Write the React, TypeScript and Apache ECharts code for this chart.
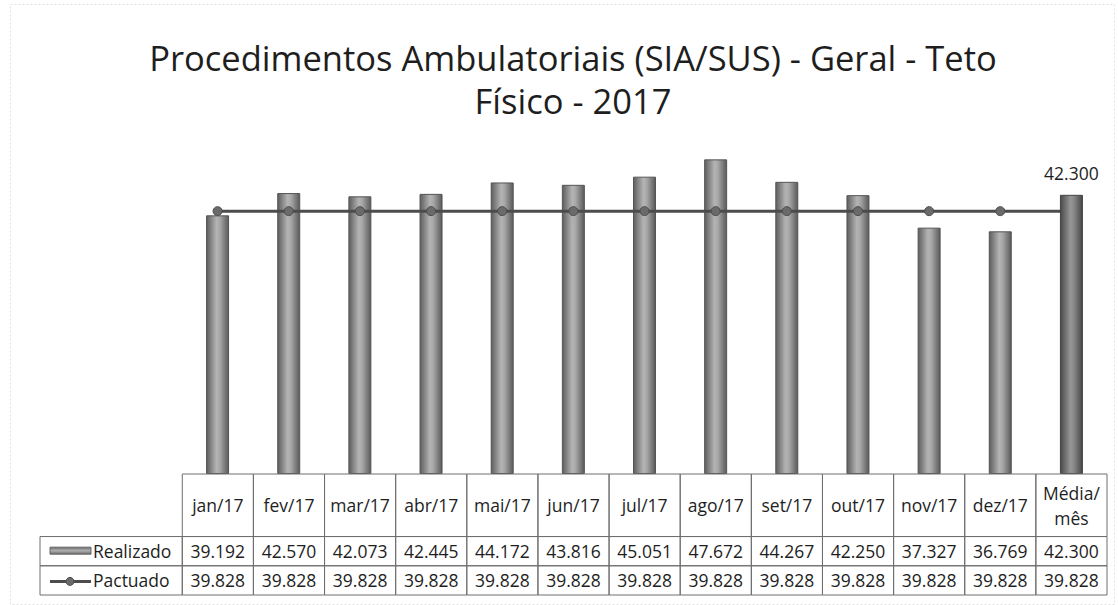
import React, { useEffect, useRef } from "react";
import * as echarts from "echarts";

const titleLines = ["Procedimentos Ambulatoriais (SIA/SUS) - Geral - Teto", "Físico - 2017"];
const categories = ["jan/17", "fev/17", "mar/17", "abr/17", "mai/17", "jun/17", "jul/17", "ago/17", "set/17", "out/17", "nov/17", "dez/17", "Média/\nmês"];
const realizado = [39192, 42570, 42073, 42445, 44172, 43816, 45051, 47672, 44267, 42250, 37327, 36769, 42300];
const pactuado = [39828, 39828, 39828, 39828, 39828, 39828, 39828, 39828, 39828, 39828, 39828, 39828, 39828];
const seriesNames = ["Realizado", "Pactuado"];

const fmt = (v: number) => (v / 1000).toFixed(3);

// layout constants (table rows in table-axis units)
const ROW_EDGES = [0, 2.14, 3.14, 4.14];
const FONT = "'Open Sans', sans-serif";
const TITLE_FONT = "'Open Sans', sans-serif";
const CELL_FONT_SIZE = 17.5;

type Cell = { col: number; row: number; text: string; icon?: "bar" | "line" };

const cells: Cell[] = [];
categories.forEach((c, i) => cells.push({ col: i, row: 0, text: c }));
cells.push({ col: -1, row: 1, text: seriesNames[0], icon: "bar" });
realizado.forEach((v, i) => cells.push({ col: i, row: 1, text: fmt(v) }));
cells.push({ col: -1, row: 2, text: seriesNames[1], icon: "line" });
pactuado.forEach((v, i) => cells.push({ col: i, row: 2, text: fmt(v) }));

const barGrad = () =>
  new echarts.graphic.LinearGradient(0, 0, 1, 0, [
    { offset: 0, color: "#5e5e5e" },
    { offset: 0.45, color: "#b4b4b4" },
    { offset: 0.6, color: "#a8a8a8" },
    { offset: 1, color: "#5a5a5a" },
  ]);
const barGradDark = () =>
  new echarts.graphic.LinearGradient(0, 0, 1, 0, [
    { offset: 0, color: "#4a4a4a" },
    { offset: 0.45, color: "#959595" },
    { offset: 0.6, color: "#8a8a8a" },
    { offset: 1, color: "#474747" },
  ]);

export default function App() {
  const ref = useRef<HTMLDivElement>(null);
  useEffect(() => {
    if (!ref.current) return;
    const chart = echarts.init(ref.current, null, { renderer: "svg" });
    const n = categories.length;
    const option: any = {
      animation: false,
      backgroundColor: "#fff",
      graphic: [
        {
          type: "rect",
          left: 8,
          top: 2,
          shape: { width: 1104, height: 600 },
          style: { fill: "none", stroke: "#e2e2e2", lineWidth: 1, lineDash: [2, 2] },
          silent: true,
        },
        {
          type: "text",
          x: 573,
          y: 57,
          style: {
            text: titleLines[0],
            align: "center",
            verticalAlign: "middle",
            fontSize: 34.5,
            fontFamily: TITLE_FONT,
            fill: "#1e1e1e",
          },
        },
        {
          type: "text",
          x: 573,
          y: 100,
          style: {
            text: titleLines[1],
            align: "center",
            verticalAlign: "middle",
            fontSize: 34.5,
            fontFamily: TITLE_FONT,
            fill: "#1e1e1e",
          },
        },
      ],
      grid: [
        { left: 182, right: 11, top: 144, bottom: 131 },
        { left: 40, right: 11, top: 474, bottom: 10 },
      ],
      xAxis: [
        { type: "category", gridIndex: 0, data: categories, show: false, boundaryGap: true },
        { type: "value", gridIndex: 1, min: -2, max: n, show: false },
      ],
      yAxis: [
        { type: "value", gridIndex: 0, min: 0, max: 50000, show: false },
        { type: "value", gridIndex: 1, min: 0, max: ROW_EDGES[3], inverse: true, show: false },
      ],
      series: [
        {
          type: "bar",
          name: seriesNames[0],
          xAxisIndex: 0,
          yAxisIndex: 0,
          barWidth: 23,
          barGap: "-100%",
          z: 2,
          data: realizado.map((v, i) => (i < n - 1 ? v : "-")),
          itemStyle: { color: barGrad(), borderColor: "#555", borderWidth: 1 },
        },
        {
          type: "line",
          name: seriesNames[1],
          xAxisIndex: 0,
          yAxisIndex: 0,
          z: 3,
          data: pactuado,
          symbol: "circle",
          symbolSize: 9,
          lineStyle: { color: "#4c4c4c", width: 3 },
          itemStyle: { color: "#6a6a6a", borderColor: "#4c4c4c", borderWidth: 1 },
        },
        {
          type: "bar",
          name: seriesNames[0] + " média",
          xAxisIndex: 0,
          yAxisIndex: 0,
          barWidth: 23,
          barGap: "-100%",
          z: 4,
          data: realizado.map((v, i) => (i === n - 1 ? v : "-")),
          itemStyle: { color: barGradDark(), borderColor: "#444", borderWidth: 1 },
          label: {
            show: true,
            position: "top",
            distance: 13,
            formatter: (p: any) => fmt(p.value),
            fontSize: 17.5,
            fontFamily: FONT,
            color: "#1e1e1e",
          },
        },
        {
          type: "custom",
          xAxisIndex: 1,
          yAxisIndex: 1,
          z: 5,
          clip: false,
          encode: { x: 0, y: 1 },
          data: cells.map((c) => [c.col, c.row]),
          renderItem: (params: any, api: any) => {
            const c = cells[params.dataIndex];
            const x0 = c.col < 0 ? -2 : c.col;
            const x1 = c.col < 0 ? 0 : c.col + 1;
            const p0 = api.coord([x0, ROW_EDGES[c.row]]);
            const p1 = api.coord([x1, ROW_EDGES[c.row + 1]]);
            const w = p1[0] - p0[0];
            const h = p1[1] - p0[1];
            const cy = p0[1] + h / 2;
            const children: any[] = [
              {
                type: "rect",
                shape: { x: p0[0], y: p0[1], width: w, height: h },
                style: { fill: "none", stroke: "#6e6e6e", lineWidth: 1 },
              },
            ];
            const textStyle = {
              fontSize: CELL_FONT_SIZE,
              fontFamily: FONT,
              fill: "#1e1e1e",
              verticalAlign: "middle",
            };
            if (c.icon) {
              if (c.icon === "bar") {
                children.push({
                  type: "rect",
                  shape: { x: p0[0] + 10, y: cy - 4, width: 41, height: 7 },
                  style: {
                    fill: new echarts.graphic.LinearGradient(0, 0, 0, 1, [
                      { offset: 0, color: "#6a6a6a" },
                      { offset: 0.5, color: "#b0b0b0" },
                      { offset: 1, color: "#6a6a6a" },
                    ]),
                    stroke: "#666",
                    lineWidth: 1,
                  },
                });
              } else {
                children.push({
                  type: "line",
                  shape: { x1: p0[0] + 10, y1: cy + 1, x2: p0[0] + 51, y2: cy + 1 },
                  style: { stroke: "#4c4c4c", lineWidth: 3 },
                });
                children.push({
                  type: "circle",
                  shape: { cx: p0[0] + 30, cy: cy + 1, r: 4 },
                  style: { fill: "#6a6a6a", stroke: "#4c4c4c", lineWidth: 1 },
                });
              }
              children.push({
                type: "text",
                style: { ...textStyle, text: c.text, x: p0[0] + 53, y: cy, align: "left" },
              });
            } else {
              const lines = c.text.split("\n");
              const step = 25;
              lines.forEach((ln, k) => {
                children.push({
                  type: "text",
                  style: {
                    ...textStyle,
                    text: ln,
                    x: p0[0] + w / 2,
                    y: cy + (k - (lines.length - 1) / 2) * step,
                    align: "center",
                  },
                });
              });
            }
            return { type: "group", children };
          },
        },
      ],
    };
    chart.setOption(option);
    return () => chart.dispose();
  }, []);
  return (
    <div
      ref={ref}
      style={{ position: "fixed", left: 0, top: 0, width: 1118, height: 605, background: "#fff" }}
    />
  );
}
